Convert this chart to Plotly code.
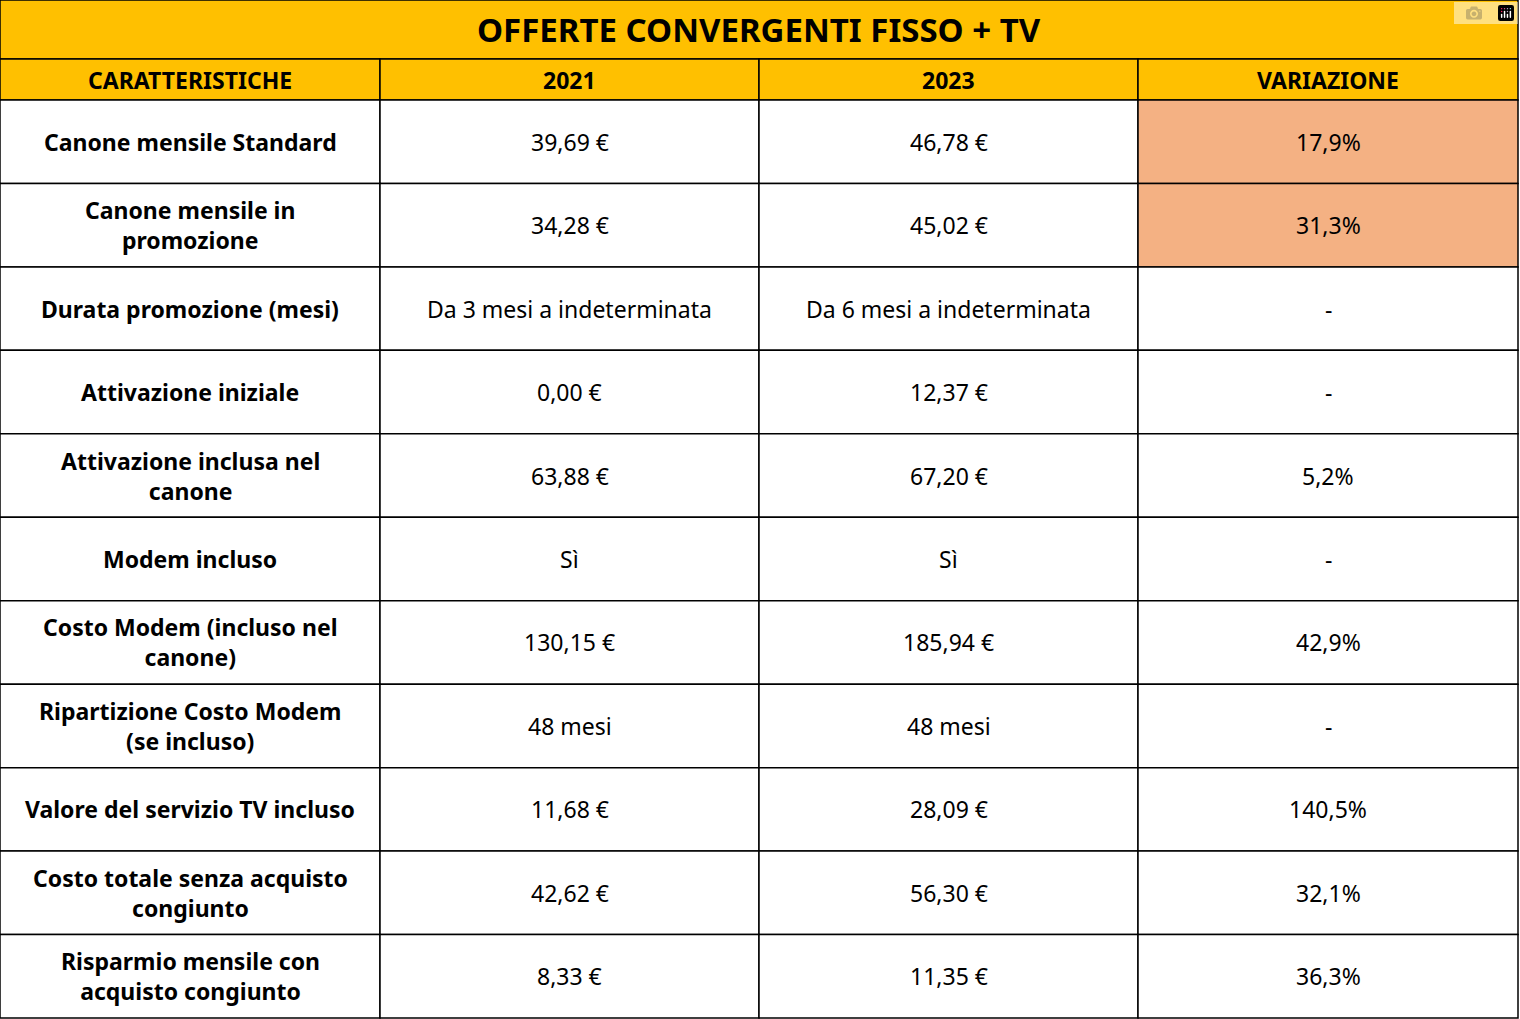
import plotly.graph_objects as go

title = "OFFERTE CONVERGENTI FISSO + TV"
headers = ["CARATTERISTICHE", "2021", "2023", "VARIAZIONE"]
caratteristiche = ["Canone mensile Standard", "Canone mensile in<br>promozione", "Durata promozione (mesi)",
                   "Attivazione iniziale", "Attivazione inclusa nel<br>canone", "Modem incluso",
                   "Costo Modem (incluso nel<br>canone)", "Ripartizione Costo Modem<br>(se incluso)",
                   "Valore del servizio TV incluso", "Costo totale senza acquisto<br>congiunto",
                   "Risparmio mensile con<br>acquisto congiunto"]
v2021 = ["39,69 €", "34,28 €", "Da 3 mesi a indeterminata", "0,00 €", "63,88 €", "Sì", "130,15 €",
         "48 mesi", "11,68 €", "42,62 €", "8,33 €"]
v2023 = ["46,78 €", "45,02 €", "Da 6 mesi a indeterminata", "12,37 €", "67,20 €", "Sì", "185,94 €",
         "48 mesi", "28,09 €", "56,30 €", "11,35 €"]
variazione = ["17,9%", "31,3%", "-", "-", "5,2%", "-", "42,9%", "-", "140,5%", "32,1%", "36,3%"]
highlight_rows = [0, 1]

W, H = 1520, 1019
col_x = [0, 380, 759, 1138, 1518]
title_h, head_h = 59, 41
row_h = (1018 - title_h - head_h) / len(caratteristiche)
FONT = "Noto Sans"
YEL, ORG = "#FFC000", "#F4B183"

fig = go.Figure()
shapes, annots = [], []

def cell(x0, x1, y0, y1, text, fill, size=23):
    shapes.append(dict(type="rect", xref="x", yref="y", x0=x0, x1=x1, y0=y0, y1=y1,
                       fillcolor=fill, line=dict(color="black", width=1.5), layer="below"))
    annots.append(dict(x=(x0 + x1) / 2, y=(y0 + y1) / 2, xref="x", yref="y", text=text,
                       showarrow=False, xanchor="center", yanchor="middle", align="center",
                       font=dict(family=FONT, size=size, color="black")))

cell(col_x[0], col_x[-1], 0, title_h, f"<b>{title}</b>", YEL, 33)
for j, h in enumerate(headers):
    cell(col_x[j], col_x[j + 1], title_h, title_h + head_h, f"<b>{h}</b>", YEL, 23)
cols = [[f"<b>{c}</b>" for c in caratteristiche], v2021, v2023, variazione]
for i in range(len(caratteristiche)):
    y0 = title_h + head_h + i * row_h
    for j in range(4):
        fill = ORG if (j == 3 and i in highlight_rows) else "white"
        cell(col_x[j], col_x[j + 1], y0, y0 + row_h, cols[j][i], fill, 23)

fig.update_layout(width=W, height=H, margin=dict(l=0, r=0, t=0, b=0), paper_bgcolor="white",
                  plot_bgcolor="white", shapes=shapes, annotations=annots,
                  xaxis=dict(range=[0, W], visible=False, fixedrange=True),
                  yaxis=dict(range=[H, 0], visible=False, fixedrange=True))
fig.write_html("out.html", post_script="document.body.style.margin='0';")
